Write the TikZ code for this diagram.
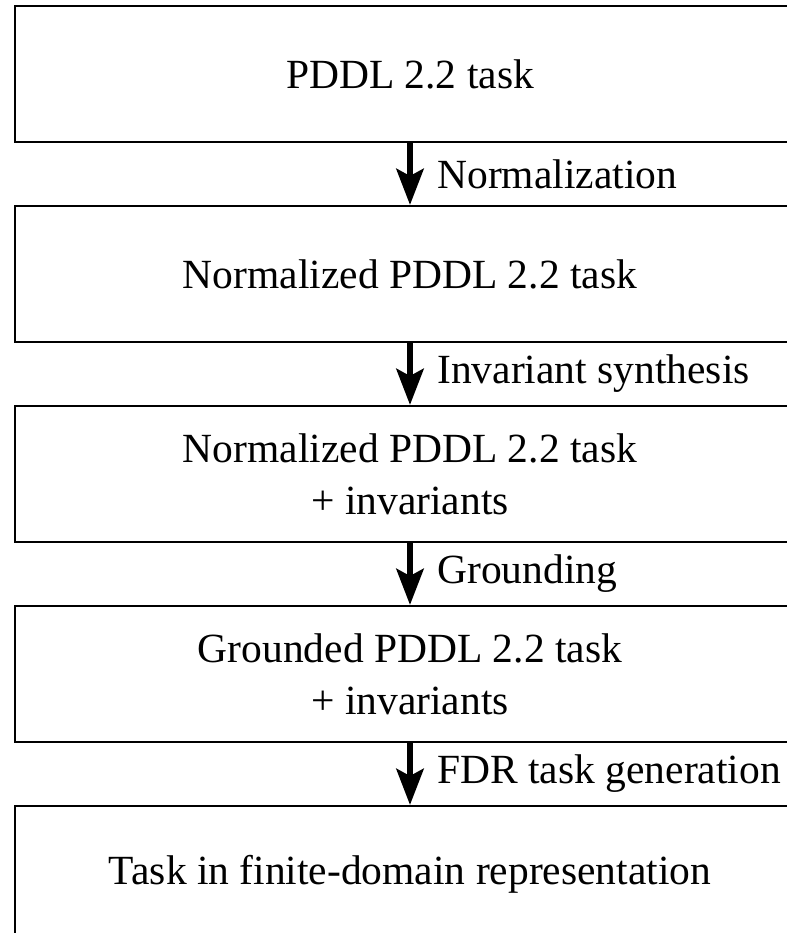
\documentclass[tikz,border=0pt]{standalone}
\usepackage{fontspec}
\setmainfont{Liberation Serif}
\usetikzlibrary{arrows.meta,positioning}

\begin{document}
\begin{tikzpicture}[
  node distance=62pt,
  box/.style={draw,line width=2pt,minimum width=790pt,minimum height=136pt,
    align=center,inner sep=0pt,font=\fontsize{41.5}{52}\selectfont},
  flow/.style={line width=6.7pt,-{Stealth[length=36pt,width=27pt,inset=7pt]}},
  stage/.style={anchor=west,xshift=24pt,inner sep=0pt,
    font=\fontsize{41.5}{52}\selectfont}]
\useasboundingbox (0,0) rectangle (786pt,-933pt);
\node[box] (pddl) at (410pt,-74pt) {PDDL 2.2 task};
\node[box,below=of pddl] (norm) {Normalized PDDL 2.2 task};
\node[box,below=of norm] (inv) {Normalized PDDL 2.2 task\\+ invariants};
\node[box,below=of inv] (ground) {Grounded PDDL 2.2 task\\+ invariants};
\node[box,below=of ground] (fdr) {Task in finite-domain representation};
\draw[flow] (pddl) -- node[stage] {Normalization} (norm);
\draw[flow] (norm) -- node[stage] {Invariant synthesis} (inv);
\draw[flow] (inv) -- node[stage] {Grounding} (ground);
\draw[flow] (ground) -- node[stage] {FDR task generation} (fdr);
\end{tikzpicture}
\end{document}
